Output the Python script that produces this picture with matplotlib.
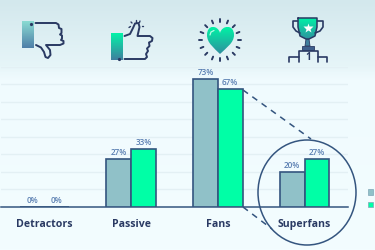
import numpy as np
import matplotlib
matplotlib.use("Agg")
import matplotlib.pyplot as plt
from matplotlib.colors import LinearSegmentedColormap
from matplotlib.patches import Ellipse, PathPatch, Polygon, Rectangle
from matplotlib.path import Path

categories = ["Detractors", "Passive", "Fans", "Superfans"]
series_a = [0, 27, 73, 20]
series_b = [0, 33, 67, 27]
grid_ticks = [10, 20, 30, 40, 50, 60, 70, 80]

NAVY = "#2a3a63"
EDGE = "#34557f"
LABEL = "#5a7fb2"
GRID = "#e3f0f4"
TEAL = "#90c1c8"
GREEN = "#00ffa6"

plt.rcParams["font.family"] = ["Open Sans", "DejaVu Sans"]

fig = plt.figure(figsize=(3.75, 2.5), dpi=100)


def px_axes(zorder):
    a = fig.add_axes([0, 0, 1, 1], zorder=zorder)
    a.set_xlim(0, 375)
    a.set_ylim(250, 0)
    a.axis("off")
    return a


def gradient(a, box, top, bottom, clip=None):
    cmap = LinearSegmentedColormap.from_list("g", [top, bottom])
    im = a.imshow(np.linspace(0, 1, 64)[:, None], cmap=cmap, aspect="auto",
                  extent=(box[0], box[1], box[3], box[2]), zorder=2)
    im.set_clip_path(clip if clip is not None else
                     Rectangle((box[0], box[2]), box[1] - box[0], box[3] - box[2],
                               transform=a.transData))
    a.set_xlim(0, 375)
    a.set_ylim(250, 0)


# background
bg = px_axes(0)
bg_cmap = LinearSegmentedColormap.from_list(
    "bg", [(0, "#d3e8ed"), (0.26, "#e6f5f8"), (0.32, "#f0fbfe"), (1, "#f3fdff")])
bg.imshow(np.linspace(0, 1, 250)[:, None], cmap=bg_cmap, aspect="auto", extent=(0, 375, 250, 0))

# chart, 0-80 % over 140 px
ax = fig.add_axes([1 / 375, (250 - 206.7) / 250, 347 / 375, 140 / 250], zorder=1)
ax.patch.set_alpha(0)
x = np.arange(len(categories))
w = 0.285
ax.bar(x - w / 2, series_a, w, color=TEAL, edgecolor=EDGE, linewidth=1.2, zorder=3)
ax.bar(x + w / 2, series_b, w, color=GREEN, edgecolor=EDGE, linewidth=1.2, zorder=3)
for i in range(len(categories)):
    ax.text(x[i] - w / 2, series_a[i] + 1.2, f"{series_a[i]}%", ha="center", va="bottom",
            fontsize=5.9, color=LABEL, fontweight="semibold")
    ax.text(x[i] + w / 2, series_b[i] + 1.2, f"{series_b[i]}%", ha="center", va="bottom",
            fontsize=5.9, color=LABEL, fontweight="semibold")
ax.set_xlim(-0.5, 3.5)
ax.set_ylim(0, 80)
ax.set_yticks(grid_ticks)
ax.yaxis.grid(True, color=GRID, linewidth=1)
ax.set_axisbelow(True)
ax.set_xticks(x)
ax.set_xticklabels(categories, fontsize=7.6, fontweight="bold", color=NAVY)
ax.tick_params(axis="both", length=0, pad=9)
ax.tick_params(axis="y", labelleft=False)
for s in ["top", "left", "right"]:
    ax.spines[s].set_visible(False)
ax.spines["bottom"].set_color(EDGE)
ax.spines["bottom"].set_linewidth(1.1)

# overlay: zoom circle, legend swatches, icons
ov = px_axes(2)
ov.patch.set_alpha(0)
ov.add_patch(Ellipse((307, 192.5), 98, 105, fill=False, edgecolor=EDGE, linewidth=1.1))
ov.plot([243, 311], [90, 139], color=EDGE, lw=1.1, ls=(0, (4, 3.5)))
ov.plot([243, 272], [207, 229], color=EDGE, lw=1.1, ls=(0, (4, 3.5)))
ov.add_patch(Rectangle((367.5, 189), 5.5, 5.5, fc=TEAL, ec="#7fa6b8", lw=0.5))
ov.add_patch(Rectangle((367.5, 201.5), 5.5, 5.5, fc=GREEN, ec="#7fa6b8", lw=0.5))


def stroke(points, lw=1.4, color=NAVY):
    xs, ys = zip(*points)
    ov.plot(xs, ys, color=color, lw=lw, solid_capstyle="round", solid_joinstyle="round")


# thumbs down
gradient(ov, (22, 33.5, 21, 48), "#8adbd2", "#4f7fa8")
ov.plot([31], [23.5], "o", ms=1.3, color=NAVY)
stroke([(35.5, 23), (56, 23), (58.5, 24.5), (59, 28), (61.5, 29), (61.5, 33), (60, 34.5),
        (62, 35.5), (62, 38.5), (61, 40), (63.5, 41), (63.5, 43.5), (60, 45), (46, 45),
        (50, 50), (50.5, 55), (48, 58), (45.5, 57), (44, 52), (41, 47.5), (36, 45)])

# thumbs up
gradient(ov, (110.5, 122, 33, 60.5), "#00f7a8", "#3f7f9e")
ov.plot([119], [58.5], "o", ms=1.3, color=NAVY)
stroke([(124.5, 36), (130, 34), (133, 28), (135, 23.5), (138.5, 23), (139.5, 27), (137.5, 36),
        (150, 36), (152.5, 38), (152, 41), (149, 42.5), (149.5, 46), (147, 48.5), (148, 51),
        (146, 54), (147, 57), (145, 59), (124.5, 59)])
for p, q in [((129, 27.5), (130.5, 26.5)), ((131, 22), (132, 23)), ((136, 20), (136, 21.5)),
             ((140, 21), (139.5, 22.5)), ((143, 26), (141.5, 26))]:
    stroke([p, q], lw=1)

# heart with rays
cx, cy = 220, 40
for ang in np.arange(0, 360, 22.5):
    r = np.radians(ang)
    stroke([(cx + 18 * np.cos(r), cy + 18 * np.sin(r)),
            (cx + 21 * np.cos(r), cy + 21 * np.sin(r))], lw=1.4)
heart = Path([(220, 54),
              (214, 48), (207, 43), (207, 35),
              (207, 24), (218, 25), (220, 33),
              (222, 25), (234, 24), (234, 35),
              (234, 43), (226, 48), (220, 54)],
             [Path.MOVETO] + [Path.CURVE4] * 12)
heart_patch = PathPatch(heart, transform=ov.transData, fc="none", ec="none")
ov.add_patch(heart_patch)
gradient(ov, (205, 236, 27, 54), "#00f2a5", "#2f8f9e", clip=heart_patch)
stroke([(210, 35), (211, 32), (214, 30.5)], lw=0.9, color="#b8fbe4")

# trophy
cup = Path([(298, 18), (317, 18), (317, 27), (315, 36), (309, 39), (306, 39), (300, 36), (298, 27), (298, 18)])
cup_patch = PathPatch(cup, transform=ov.transData, fc="none", ec="none")
ov.add_patch(cup_patch)
gradient(ov, (297, 318, 18, 40), "#00f0a6", "#2f8f9e", clip=cup_patch)
stroke([(298, 18), (317, 18), (317, 27), (315, 36), (309, 39), (306, 39), (300, 36), (298, 27), (298, 18)], lw=1.1)
stroke([(297.5, 21), (293, 21), (293, 27), (296, 31), (300, 33)], lw=1.2)
stroke([(317.5, 21), (323, 21), (323, 27), (320, 31), (315, 33)], lw=1.2)
ov.add_patch(Polygon([(306, 39), (309, 39), (310, 46), (305, 46)], fc="#3f7f9e", ec=NAVY, lw=0.6))
ov.add_patch(Rectangle((302, 46), 12, 4, fc="#3d5f8c", ec=NAVY, lw=0.6))
ov.plot([307.5], [28], marker="*", ms=7, color="white", mec="none")
stroke([(299, 62), (299, 51), (318, 51), (318, 62)], lw=1.2)
stroke([(288.5, 62), (288.5, 56.5), (299, 56.5)], lw=1.2)
stroke([(327, 62), (327, 56.5), (318, 56.5)], lw=1.2)
ov.text(308, 58, "1", ha="center", va="center", fontsize=7, fontweight="bold", color=NAVY)

fig.savefig("out.png", dpi=100)
